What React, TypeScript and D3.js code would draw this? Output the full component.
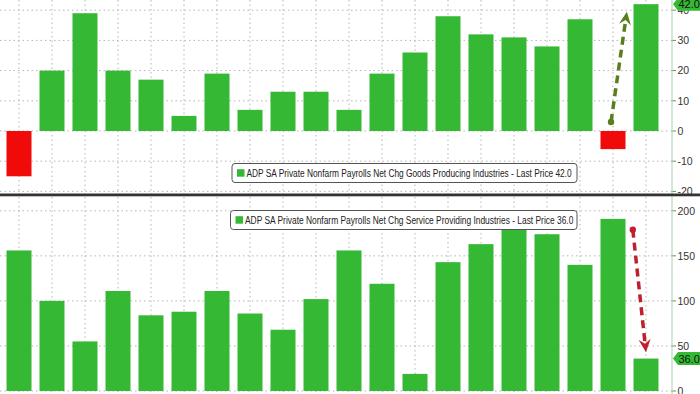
import React from "react";
import * as d3 from "d3";

// ADP net change by sector, last 20 months (thousands)
const goodsValues = [-15, 20, 39, 20, 17, 5, 19, 7, 13, 13, 7, 19, 26, 38, 32, 31, 28, 37, -6, 42];
const serviceValues = [156, 100, 55, 111, 84, 88, 111, 86, 68, 102, 156, 119, 19, 143, 163, 182, 174, 140, 191, 36];

const goodsTicks = [40, 30, 20, 10, 0, -10, -20];
const serviceTicks = [200, 150, 100, 50, 0];

const goodsLabel = "ADP SA Private Nonfarm Payrolls Net Chg Goods Producing Industries - Last Price 42.0";
const serviceLabel = "ADP SA Private Nonfarm Payrolls Net Chg Service Providing Industries - Last Price 36.0";

// annotation arrows, in (bar index, value) units
const goodsArrow = { from: [17.94, 3], to: [18.42, 39.5] };
const serviceArrow = { from: [18.6, 179], to: [19.0, 43] };

const W = 700;
const H = 394;
const axisX = 672;
const GREEN = "#35b934";
const RED = "#f00a0a";
const FONT = "'Liberation Sans', Arial, sans-serif";

const x = d3.scaleLinear().domain([0, goodsValues.length - 1]).range([19, 646]);
const barW = 25;
const yTop = d3.scaleLinear().domain([-20, 40]).range([191.4, 10.2]);
const yBot = d3.scaleLinear().domain([0, 200]).range([391, 210.8]);

function Arrow({ p0, p1, color }: { p0: [number, number]; p1: [number, number]; color: string }) {
  const dx = p1[0] - p0[0];
  const dy = p1[1] - p0[1];
  const len = Math.hypot(dx, dy);
  const ux = dx / len, uy = dy / len;
  const nx = -uy, ny = ux;
  const hl = 13, hw = 6;
  const base = [p1[0] - ux * hl, p1[1] - uy * hl];
  const notch = [p1[0] - ux * hl * 0.65, p1[1] - uy * hl * 0.65];
  const head = [
    [p1[0], p1[1]],
    [base[0] + nx * hw, base[1] + ny * hw],
    notch,
    [base[0] - nx * hw, base[1] - ny * hw],
  ];
  return (
    <g>
      <line x1={p0[0]} y1={p0[1]} x2={notch[0]} y2={notch[1]} stroke={color} strokeWidth={3.5} strokeDasharray="8,5" />
      <circle cx={p0[0]} cy={p0[1]} r={3.2} fill={color} />
      <path d={"M" + head.map(p => p.join(",")).join("L") + "Z"} fill={color} />
    </g>
  );
}

function Tag({ y, text }: { y: number; text: string }) {
  const x0 = axisX + 1;
  const h = 13;
  const d = `M${x0},${y} L${x0 + 5},${y - h / 2} L${W},${y - h / 2} L${W},${y + h / 2} L${x0 + 5},${y + h / 2} Z`;
  return (
    <g>
      <path d={d} fill={GREEN} />
      <text x={x0 + 5.5} y={y + 4} fontSize={11} fill="#111" fontFamily={FONT}>{text}</text>
    </g>
  );
}

function Legend({ x0, y0, w, h, text, textEnd }: { x0: number; y0: number; w: number; h: number; text: string; textEnd: number }) {
  return (
    <g>
      <rect x={x0} y={y0} width={w} height={h} rx={3} fill="#fff" stroke="#555" strokeWidth={1} />
      <rect x={x0 + 5} y={y0 + h / 2 - 3.8} width={7.5} height={7.5} fill={GREEN} />
      <text x={x0 + 14.5} y={y0 + h / 2 + 3.6} fontSize={10} fill="#222" fontFamily={FONT}
        textLength={textEnd - (x0 + 14.5)} lengthAdjust="spacingAndGlyphs">{text}</text>
    </g>
  );
}

function Panel({ values, y, ticks, top, bottom }: { values: number[]; y: d3.ScaleLinear<number, number>; ticks: number[]; top: number; bottom: number }) {
  return (
    <g>
      {x.ticks(20).filter(i => Number.isInteger(i)).map(i => (
        <line key={"v" + i} x1={x(i)} x2={x(i)} y1={top} y2={bottom} stroke="#b5b5b5" strokeWidth={1} strokeDasharray="1.5,3" />
      ))}
      {ticks.map(t => (
        <line key={"h" + t} x1={0} x2={axisX} y1={y(t)} y2={y(t)} stroke="#b5b5b5" strokeWidth={1} strokeDasharray="1.5,3" />
      ))}
      {values.map((v, i) => (
        <rect key={i} x={x(i) - barW / 2} width={barW} y={Math.min(y(v), y(0))} height={Math.abs(y(v) - y(0))}
          fill={v < 0 ? RED : GREEN} />
      ))}
      {ticks.map(t => (
        <g key={"t" + t}>
          <line x1={axisX} x2={axisX + 4} y1={y(t)} y2={y(t)} stroke="#6a8f6a" strokeWidth={1} />
          <text x={axisX + 5.5} y={y(t) + 3.7} fontSize={10.5} fill="#333" fontFamily={FONT}>{t}</text>
        </g>
      ))}
    </g>
  );
}

export default function App() {
  const last = goodsValues.length - 1;
  return (
    <svg width={W} height={H} style={{ position: "absolute", left: 0, top: 0, background: "#fff" }}>
      <rect x={0} y={0} width={W} height={H} fill="#fff" />
      <Panel values={goodsValues} y={yTop} ticks={goodsTicks} top={0} bottom={194} />
      <Panel values={serviceValues} y={yBot} ticks={serviceTicks} top={197} bottom={H} />
      <line x1={axisX} x2={axisX} y1={0} y2={H} stroke="#a9d3a9" strokeWidth={1} />
      <rect x={0} y={193.5} width={W} height={2.8} fill="#333" />
      <Legend x0={232} y0={163.5} w={345} h={19} text={goodsLabel} textEnd={571.7} />
      <Legend x0={230.5} y0={210.5} w={346.5} h={19} text={serviceLabel} textEnd={573.3} />
      <Arrow p0={[x(goodsArrow.from[0]), yTop(goodsArrow.from[1])]} p1={[x(goodsArrow.to[0]), yTop(goodsArrow.to[1])]} color="#5a7e1c" />
      <Arrow p0={[x(serviceArrow.from[0]), yBot(serviceArrow.from[1])]} p1={[x(serviceArrow.to[0]), yBot(serviceArrow.to[1])]} color="#c0202c" />
      <Tag y={yTop(goodsValues[last])} text={goodsValues[last].toFixed(1)} />
      <Tag y={yBot(serviceValues[last])} text={serviceValues[last].toFixed(1)} />
    </svg>
  );
}
